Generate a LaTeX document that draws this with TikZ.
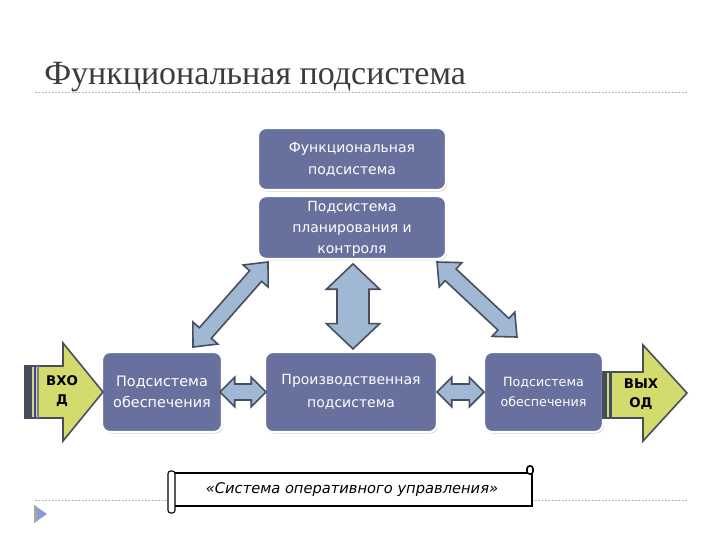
\documentclass[tikz,border=0pt]{standalone}
\usepackage{fontspec}
\setmainfont{Liberation Serif}
\setsansfont{DejaVu Sans}
\usetikzlibrary{calc,shadows}
\definecolor{boxblue}{RGB}{104,113,158}
\definecolor{arrowblue}{RGB}{160,184,212}
\definecolor{arrowedge}{RGB}{72,78,92}
\definecolor{inyellow}{RGB}{212,219,110}
\definecolor{titlegray}{RGB}{60,60,60}
\definecolor{stripe}{RGB}{70,76,96}
\newcommand\blockarrow[5]{%
 \draw[barrow] (#1) -- ($(#1)!#5!(#2)!#4!90:(#2)$) -- ($(#1)!#5!(#2)!#3!90:(#2)$)
  -- ($(#2)!#5!(#1)!#3!-90:(#1)$) -- ($(#2)!#5!(#1)!#4!-90:(#1)$) -- (#2)
  -- ($(#2)!#5!(#1)!#4!90:(#1)$) -- ($(#2)!#5!(#1)!#3!90:(#1)$)
  -- ($(#1)!#5!(#2)!#3!-90:(#2)$) -- ($(#1)!#5!(#2)!#4!-90:(#2)$) -- cycle;}
\tikzset{
 sysbox/.style={draw=white, line width=1.6pt, fill=boxblue, rounded corners=6pt,
   text=white, font=\sffamily\fontsize{10.5}{16.5}\selectfont, align=center,
   drop shadow={shadow xshift=0.8pt, shadow yshift=-1.2pt, opacity=0.35, fill=gray}},
 barrow/.style={fill=arrowblue, draw=arrowedge, line width=1.2pt, line join=miter},
 ioarrow/.style={fill=inyellow, draw=arrowedge, line width=1.2pt},
 iotext/.style={font=\sffamily\bfseries\fontsize{10}{14}\selectfont, align=center, text=black},
 guide/.style={draw=gray!55, line width=0.6pt, dash pattern=on 1.5pt off 1pt}
}
\begin{document}
\begin{tikzpicture}[x=0.75pt,y=-0.75pt]
\useasboundingbox (0,0) rectangle (720,540);
% title
\node[anchor=base west, inner sep=0, text=titlegray, font=\fontsize{25.5}{28}\selectfont] (title) at (44,84) {Функциональная подсистема};
\draw[guide] (35,92) -- (688,92);
\draw[guide] (35,500) -- (688,500);
% bullet
\fill[arrowblue!85!blue] (34,505) -- (47,514) -- (34,523) -- cycle;
\fill[gray!70] (34,505) -- (37,507) -- (37,521) -- (34,523) -- cycle;
% boxes
\node[sysbox, minimum width=141pt, minimum height=46.5pt] (func) at (352,159) {Функциональная\\подсистема};
\node[sysbox, minimum width=141pt, minimum height=47pt, text depth=0pt, font=\sffamily\fontsize{10.5}{16}\selectfont] (plan) at (352,227.5) {Подсистема\\планирования и\\контроля};
\node[sysbox, minimum width=90pt, minimum height=60pt, font=\sffamily\fontsize{10.8}{16}\selectfont] (left) at (162,392) {Подсистема\\обеспечения};
\node[sysbox, minimum width=129pt, minimum height=60pt, font=\sffamily\fontsize{10.5}{17}\selectfont] (prod) at (351,392) {Производственная\\подсистема};
\node[sysbox, minimum width=89pt, minimum height=60pt, font=\sffamily\fontsize{9.5}{15}\selectfont] (right) at (543.5,392) {Подсистема\\обеспечения};
% block arrows
\coordinate (d1a) at (193,347); \coordinate (d1b) at (268,262);
\coordinate (d2a) at (437,262); \coordinate (d2b) at (517,337);
\coordinate (va) at ($(plan.south)+(1,4)$); \coordinate (vb) at ($(prod.north)+(2,-2)$);
\coordinate (h1a) at ($(left.east)+(-3,0)$); \coordinate (h1b) at ($(prod.west)+(2,0)$);
\coordinate (h2a) at ($(prod.east)+(-1,0)$); \coordinate (h2b) at ($(right.west)+(1,0)$);
\blockarrow{d1a}{d1b}{6pt}{12.5pt}{14pt}
\blockarrow{d2a}{d2b}{6pt}{12.5pt}{14pt}
\blockarrow{va}{vb}{12pt}{20pt}{19pt}
\blockarrow{h1a}{h1b}{6pt}{11pt}{11pt}
\blockarrow{h2a}{h2b}{6pt}{11pt}{11pt}
% input arrow
\draw[ioarrow] (25,366) -- (63,366) -- (63,343) -- (103,392) -- (63,441) -- (63,418) -- (25,418) -- cycle;
\fill[stripe] (25,366) rectangle (32,418);
\draw[blue!50!gray, line width=0.8pt] (35,366) -- (35,418);
\draw[gray, line width=0.8pt] (38,366) -- (38,418);
\node[iotext] (in) at (62,391) {ВХО\\Д};
% output arrow
\draw[ioarrow] (603,372) -- (643,372) -- (643,345) -- (687,393) -- (643,441) -- (643,418) -- (603,418) -- cycle;
\fill[stripe] (603,372) rectangle (607,418);
\fill[stripe] (609,372) rectangle (612,418);
\node[iotext] (out) at (641,394) {ВЫХ\\ОД};
% scroll
\draw[fill=white, line width=1.5pt] (172,473) rectangle (532,506);
\draw[fill=white, line width=0.8pt, rounded corners=2pt] (168,471) rectangle (175,513);
\draw[fill=white, line width=1.2pt, rounded corners=2pt] (527,466) rectangle (533,474);
\node[font=\sffamily\itshape\fontsize{11}{13}\selectfont] (scroll) at (352,490) {«Система оперативного управления»};
\end{tikzpicture}
\end{document}
